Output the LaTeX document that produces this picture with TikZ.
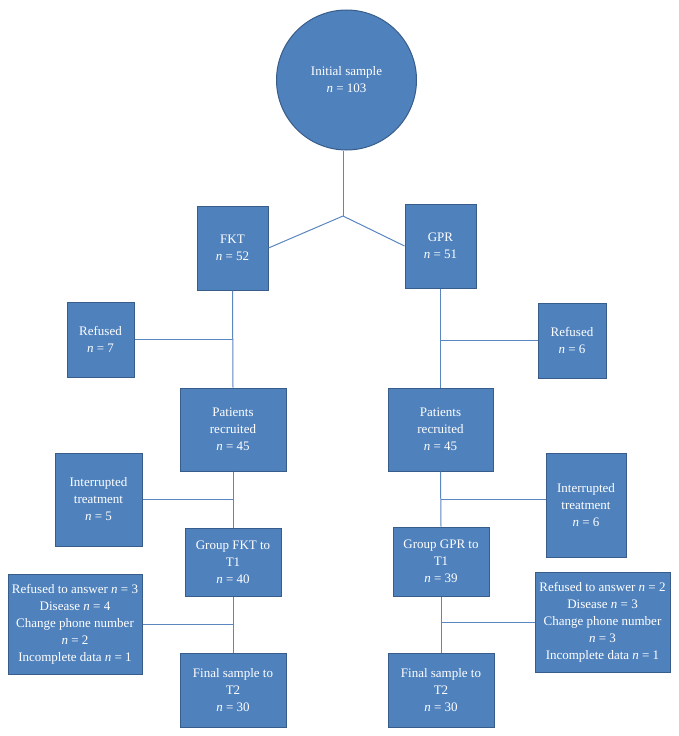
\documentclass[tikz,border=0pt]{standalone}
\usepackage{fontspec}
\setmainfont{Liberation Serif}
\usetikzlibrary{positioning,calc}
\definecolor{boxfill}{HTML}{4F81BD}
\definecolor{boxline}{HTML}{385D8A}
\definecolor{linkcol}{HTML}{5B86C0}
\tikzset{
  x=1pt,y=-1pt,
  every node/.style={font=\fontsize{13}{17}\selectfont,text=white},
  box/.style={draw=boxline,line width=1pt,fill=boxfill,align=center,inner sep=2pt},
  circ/.style={box,circle,minimum size=140pt},
  link/.style={draw=linkcol,line width=1pt},
}
\newcommand{\nn}[1]{\textit{n} = #1}

\begin{document}
\begin{tikzpicture}
\useasboundingbox (0,0) rectangle (678,736);

% Top: initial sample split
\node[circ] (init) at (346.5,80) {Initial sample\\\nn{103}};
\node[box,minimum width=71pt,minimum height=84pt] (fkt) at (232.5,248) {FKT\\\nn{52}};
\node[box,minimum width=71pt,minimum height=84pt] (gpr) at (440.5,246) {GPR\\\nn{51}};
\coordinate (jn) at (343,216);
\draw[link] (jn |- init.south) -- (jn);
\draw[link] (jn) -- (fkt.east);
\draw[link] (jn) -- (gpr.west);

% Left arm: FKT
\node[box,minimum width=67pt,minimum height=75pt] (refl) at (100.5,339.5) {Refused\\\nn{7}};
\node[box,minimum width=106pt,minimum height=83pt] (recl) at (233,429.5) {Patients\\recruited\\\nn{45}};
\node[box,minimum width=87pt,minimum height=93pt] (intl) at (98.5,499.5) {Interrupted\\treatment\\\nn{5}};
\node[box,minimum width=96pt,minimum height=68pt] (grpl) at (233,562) {Group FKT to\\T1\\\nn{40}};
\node[box,minimum width=134pt,minimum height=100pt] (lossl) at (75,624)
{Refused to answer \nn{3}\\Disease \nn{4}\\Change phone number\\\nn{2}\\Incomplete data \nn{1}};
\node[box,minimum width=106pt,minimum height=74pt] (finl) at (233,690) {Final sample to\\T2\\\nn{30}};
\draw[link] (fkt.south) -- (recl.north);
\draw[link] (refl.east) -- (refl.east -| recl.north);
\draw[link] (recl.south) -- (grpl.north);
\draw[link] (intl.east) -- (intl.east -| grpl.north);
\draw[link] (grpl.south) -- (finl.north);
\draw[link] (lossl.east) -- (lossl.east -| finl.north);

% Right arm: GPR
\node[box,minimum width=68pt,minimum height=75pt] (refr) at (572,340.5) {Refused\\\nn{6}};
\node[box,minimum width=105pt,minimum height=83pt] (recr) at (440.5,429.5) {Patients\\recruited\\\nn{45}};
\node[box,minimum width=80pt,minimum height=104pt] (intr) at (586,505) {Interrupted\\treatment\\\nn{6}};
\node[box,minimum width=96pt,minimum height=69pt] (grpr) at (441,561.5) {Group GPR to\\T1\\\nn{39}};
\node[box,minimum width=135pt,minimum height=100pt] (lossr) at (602.5,622)
{Refused to answer \nn{2}\\Disease \nn{3}\\Change phone number\\\nn{3}\\Incomplete data \nn{1}};
\node[box,minimum width=106pt,minimum height=74pt] (finr) at (441,690) {Final sample to\\T2\\\nn{30}};
\draw[link] (gpr.south) -- (recr.north);
\draw[link] (refr.west) -- (refr.west -| recr.north);
\draw[link] (recr.south) -- (grpr.north);
\draw[link] ([yshift=6pt]intr.west) -- ([yshift=6pt]intr.west -| grpr.north);
\draw[link] (grpr.south) -- (finr.north);
\draw[link] (lossr.west) -- (lossr.west -| finr.north);

\end{tikzpicture}
\end{document}
